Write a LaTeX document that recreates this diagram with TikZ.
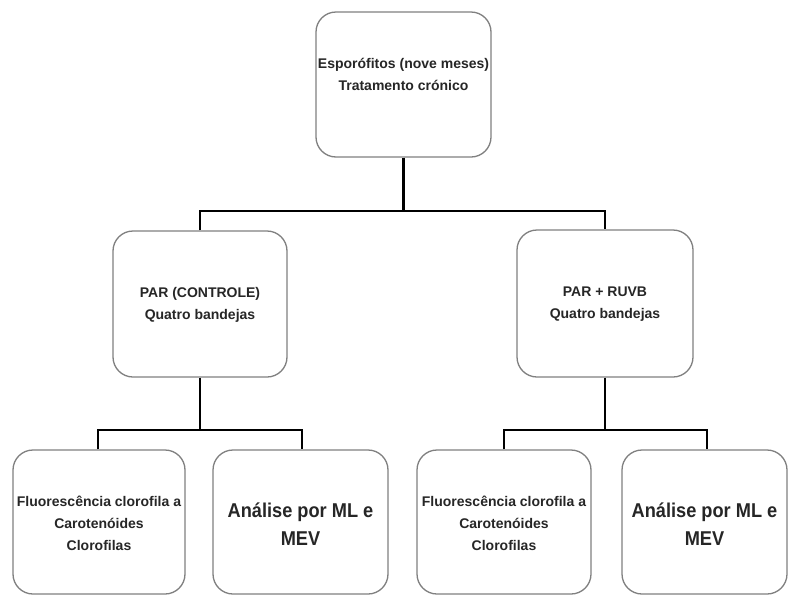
\documentclass[tikz,border=0pt]{standalone}
\usepackage{fontspec}
\setmainfont{Liberation Sans}
\newfontfamily\bigfont{Liberation Sans}[FakeStretch=0.91]
\begin{document}
\begin{tikzpicture}[x=1pt,y=-1pt,
  box/.style={draw=black!50,line width=1.3pt,rounded corners=20pt,fill=white,inner sep=0pt},
  txt/.style={align=center,font=\fontsize{14}{22}\selectfont\bfseries,text=black!85},
  bigtxt/.style={align=center,font=\bigfont\fontsize{20}{28}\selectfont\bfseries,text=black!85},
  link/.style={draw=black,line width=2.3pt}]
\useasboundingbox (0,0) rectangle (788,595);
\fill[white] (0,0) rectangle (788,595);
% boxes
\node[box,minimum width=175pt,minimum height=145pt] (top) at (403.5,84.5) {};
\node[txt] (toptxt) at (403.5,74) {Esporófitos (nove meses)\\Tratamento crónico};
\node[box,minimum width=174pt,minimum height=146pt] (par) at (200,304) {};
\node[txt] (partxt) at (200,305) {PAR (CONTROLE)\\Quatro bandejas};
\node[box,minimum width=176pt,minimum height=147pt] (ruv) at (605,303.5) {};
\node[txt] (ruvtxt) at (605,304) {PAR + RUVB\\Quatro bandejas};
\node[box,minimum width=172pt,minimum height=144pt] (b1) at (99,522) {};
\node[txt] (b1txt) at (99,523.5) {Fluorescência clorofila a\\Carotenóides\\Clorofilas};
\node[box,minimum width=175pt,minimum height=144pt] (b2) at (300.5,522) {};
\node[bigtxt] (b2txt) at (300.5,524) {Análise por ML e\\MEV};
\node[box,minimum width=174pt,minimum height=144pt] (b3) at (504,522) {};
\node[txt] (b3txt) at (504,523.5) {Fluorescência clorofila a\\Carotenóides\\Clorofilas};
\node[box,minimum width=165pt,minimum height=144pt] (b4) at (704.5,522) {};
\node[bigtxt] (b4txt) at (704.5,524) {Análise por ML e\\MEV};
% bus coordinates
\coordinate (t1) at (403.5,211);
\coordinate (tl) at (200,211);
\coordinate (tr) at (605,211);
\coordinate (l1) at (200,430);
\coordinate (ll) at (98,430);
\coordinate (lr) at (302,430);
\coordinate (r1) at (605,430);
\coordinate (rl) at (504,430);
\coordinate (rr) at (707,430);
% connectors
\draw[link] (top.south) -- (t1);
\draw[link] (par.north) -- (tl) -- (tr) -- (ruv.north);
\draw[link] (par.south) -- (l1);
\draw[link] (ll |- b1.north) -- (ll) -- (lr) -- (lr |- b2.north);
\draw[link] (ruv.south) -- (r1);
\draw[link] (rl |- b3.north) -- (rl) -- (rr) -- (rr |- b4.north);
\end{tikzpicture}
\end{document}
